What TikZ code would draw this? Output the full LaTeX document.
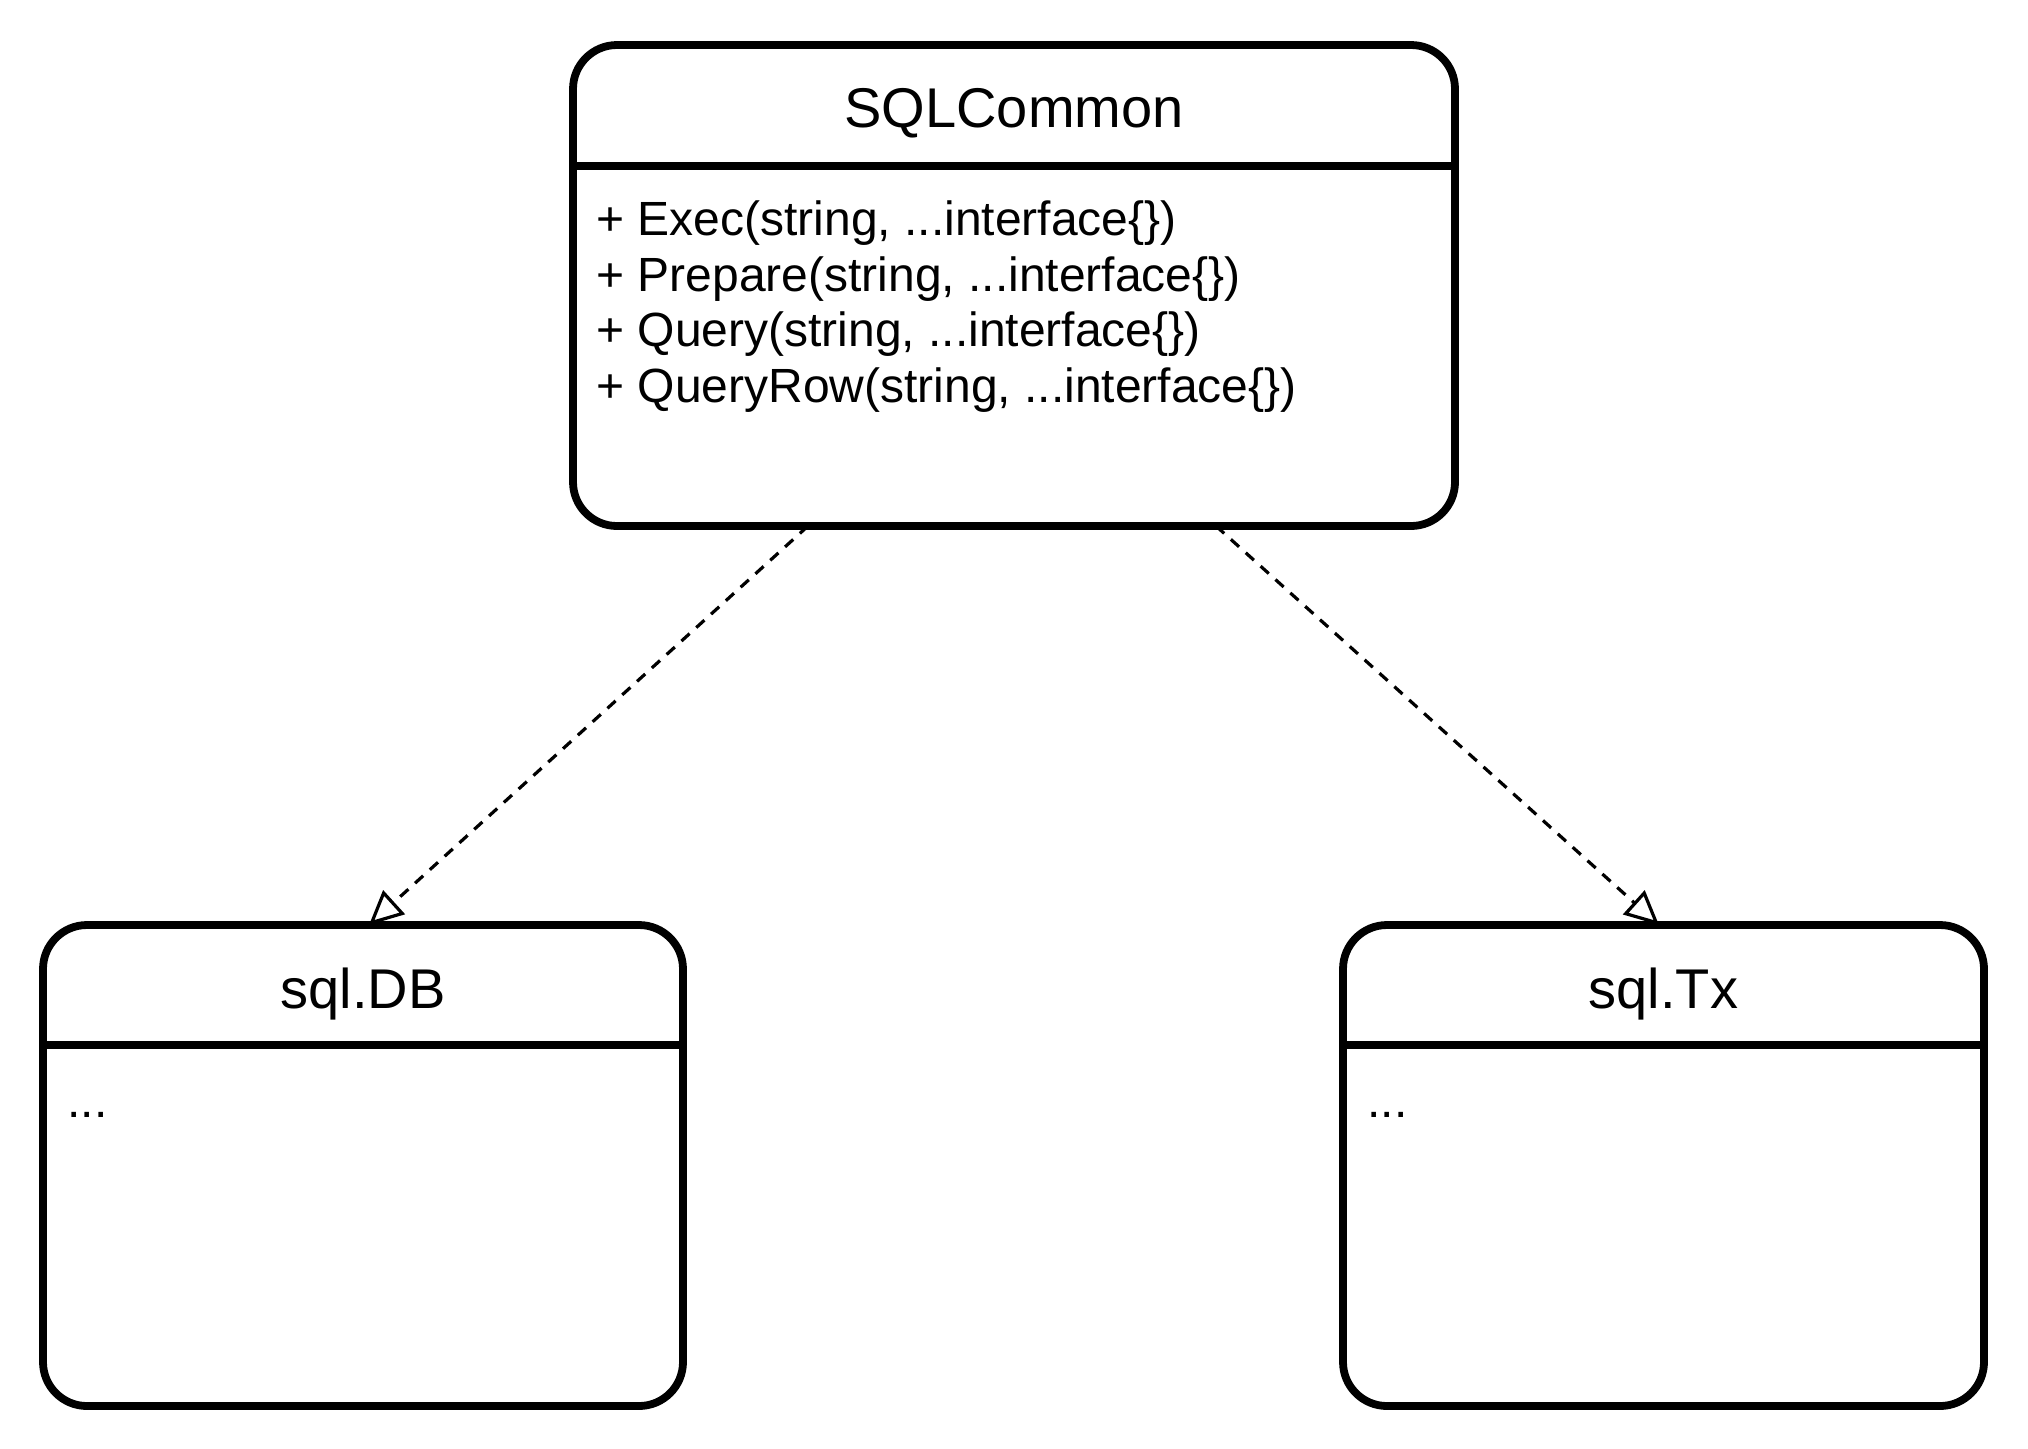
\documentclass[tikz,border=0pt]{standalone}
\usepackage{fontspec}
\setmainfont{Liberation Sans}
\usetikzlibrary{arrows.meta}
\begin{document}
\begin{tikzpicture}[x=0.5pt,y=-0.5pt,
  umlbox/.style={draw, line width=3.9pt, rounded corners=22pt, inner sep=0pt},
  sepline/.style={line width=3.9pt},
  titletext/.style={inner sep=0pt, anchor=base, font=\fontsize{28pt}{33pt}\selectfont},
  bodytext/.style={inner sep=0pt, anchor=base west, font=\fontsize{24pt}{28pt}\selectfont},
  dep/.style={line width=1.6pt, dash pattern=on 5.5pt off 4.5pt,
    -{Triangle[open, length=17pt, width=16pt, line width=1.6pt]}}]
\useasboundingbox[fill=white] (0,0) rectangle (2028,1448);
% boxes
\node[umlbox, minimum width=441pt, minimum height=240.5pt] (common) at (1014,285.5) {};
\node[umlbox, minimum width=320pt, minimum height=240.5pt] (db) at (363,1165.5) {};
\node[umlbox, minimum width=320.5pt, minimum height=240.5pt] (tx) at (1663.5,1165.5) {};
% header separators
\coordinate (cl) at (573,166); \coordinate (cr) at (1455,166);
\coordinate (dl) at (43,1045); \coordinate (dr) at (683,1045);
\coordinate (tl) at (1343,1045); \coordinate (tr) at (1984,1045);
\draw[sepline] (cl) -- (cr);
\draw[sepline] (dl) -- (dr);
\draw[sepline] (tl) -- (tr);
% titles
\node[titletext] (commontitle) at (1014,127) {SQLCommon};
\node[titletext] (dbtitle) at (363,1008) {sql.DB};
\node[titletext] (txtitle) at (1663.5,1008) {sql.Tx};
% members
\node[bodytext] (m1) at (596,235) {+ Exec(string, ...interface\{\})};
\node[bodytext] (m2) at (596,291) {+ Prepare(string, ...interface\{\})};
\node[bodytext] (m3) at (596,346) {+ Query(string, ...interface\{\})};
\node[bodytext] (m4) at (596,402) {+ QueryRow(string, ...interface\{\})};
\node[bodytext] (dbbody) at (67,1117) {...};
\node[bodytext] (txbody) at (1367,1117) {...};
% connectors
\coordinate (s1) at (808,526); \coordinate (e1) at (369,925);
\coordinate (s2) at (1216,526); \coordinate (e2) at (1659,925);
\draw[dep] (s1) -- (e1);
\draw[dep] (s2) -- (e2);
\end{tikzpicture}
\end{document}
